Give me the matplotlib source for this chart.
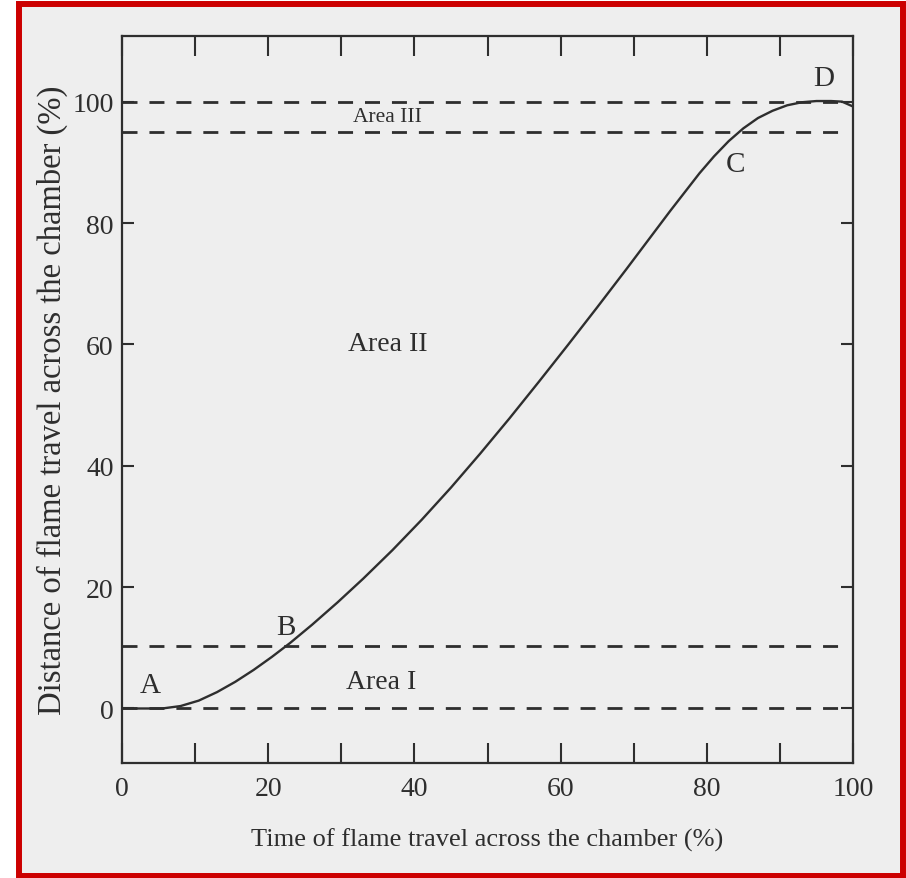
import matplotlib
matplotlib.use("Agg")
import matplotlib.pyplot as plt
from matplotlib.patches import Rectangle
from matplotlib.ticker import MultipleLocator

plt.rcParams['font.family'] = ['Liberation Serif', 'DejaVu Serif']

# flame travel curve (time %, distance %)
time_pct = [0, 3, 5.5, 8, 10.5, 13, 15.5, 18, 20.5, 23, 26, 29.5, 33, 37,
            41, 45, 49, 53, 57, 61, 65, 69, 71, 73, 75, 77, 79, 81, 83, 85,
            87, 89, 91, 93, 95, 97, 98.5, 100]
dist_pct = [0, 0, 0, 0.4, 1.3, 2.7, 4.4, 6.35, 8.5, 10.8, 13.8, 17.5, 21.4,
            26.1, 31.1, 36.4, 42.0, 47.8, 53.8, 59.9, 66.1, 72.4, 75.6,
            78.8, 82.0, 85.1, 88.2, 91.0, 93.5, 95.6, 97.3, 98.5, 99.4,
            99.9, 100.1, 100.1, 100.0, 99.2]

# dashed boundaries of the three areas
area1_bounds = [0, 10.3]
area3_bounds = [95, 100]

# labels: (text, x, y) and (text, x, y, size)
point_labels = [('A', 3.8, 3.9), ('B', 22.4, 13.5),
                ('C', 83.9, 89.7), ('D', 96.0, 103.9)]
area_labels = [('Area I', 35.4, 4.4, 20), ('Area II', 36.3, 60.2, 20),
               ('Area III', 36.3, 97.5, 15.5)]

x_ticks = [0, 20, 40, 60, 80, 100]
y_ticks = [0, 20, 40, 60, 80, 100]

ink = '#2e2e2e'

fig = plt.figure(figsize=(9.06, 8.79), dpi=100, facecolor='white')

# red frame round the scan
frame = Rectangle((19 / 906, 2.5 / 879), 884 / 906, 872 / 879,
                  transform=fig.transFigure, facecolor='#eeeeee',
                  edgecolor='#cc0000', linewidth=4.3, zorder=-5)
fig.patches.append(frame)

ax = fig.add_axes([122 / 906, (879 - 763.5) / 879, 731 / 906, 727 / 879])
ax.set_facecolor('none')
ax.set_zorder(2)

ax.plot(time_pct, dist_pct, color=ink, lw=1.7, solid_joinstyle='round',
        solid_capstyle='round', zorder=3)

dash = (0, (5.4, 4.3))
for yv in area1_bounds:
    ax.plot([0, 99.4], [yv, yv], color=ink, lw=2.0, linestyle=dash)
for yv in area3_bounds:
    ax.plot([0, 98.9], [yv, yv], color=ink, lw=2.0, linestyle=dash)

for txt, x, y in point_labels:
    ax.text(x, y, txt, fontsize=21, color=ink, ha='center', va='center')
for txt, x, y, size in area_labels:
    ax.text(x, y, txt, fontsize=size, color=ink, ha='center', va='center')

ax.set_xlim(0, 100)
ax.set_ylim(-8.9, 110.9)

ax.set_xticks(x_ticks)
ax.xaxis.set_minor_locator(MultipleLocator(10))
ax.set_yticks(y_ticks)

ax.tick_params(axis='x', which='both', direction='in', top=True,
               length=14.4, width=1.5, color=ink)
ax.tick_params(axis='x', which='major', labelsize=20, pad=10,
               labelcolor=ink)
ax.tick_params(axis='y', direction='in', right=True, length=8.6, width=1.5,
               color=ink, labelsize=20, pad=6, labelcolor=ink)

for side in ax.spines.values():
    side.set_linewidth(1.6)
    side.set_color(ink)

ax.set_xlabel('Time of flame travel across the chamber (%)', fontsize=19,
              color=ink, labelpad=19)
ax.set_ylabel('Distance of flame travel across the chamber (%)',
              fontsize=23.5, color=ink, labelpad=3)

fig.savefig('out.png', dpi=100, facecolor=fig.get_facecolor())
